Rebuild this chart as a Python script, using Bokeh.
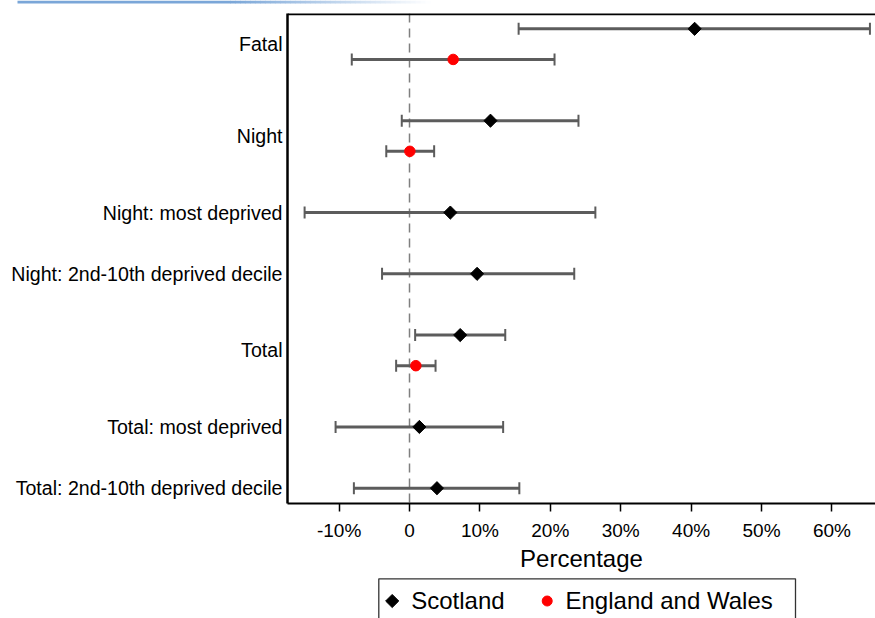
import numpy as np
from bokeh.plotting import figure
from bokeh.layouts import column, row
from bokeh.models import ColumnDataSource, Span, FixedTicker, Range1d
from bokeh.core.properties import value
from bokeh.embed import file_html
from bokeh.resources import INLINE

groups = ["Fatal", "Night", "Night: most deprived", "Night: 2nd-10th deprived decile",
          "Total", "Total: most deprived", "Total: 2nd-10th deprived decile"]
scot_est = [40.5, 11.5, 5.8, 9.6, 7.2, 1.4, 3.9]
scot_lo = [15.5, -1.1, -14.9, -3.9, 0.8, -10.5, -7.9]
scot_hi = [65.4, 24.0, 26.4, 23.4, 13.6, 13.3, 15.6]
ew_est = [6.2, 0.05, None, None, 0.9, None, None]
ew_lo = [-8.2, -3.3, None, None, -1.9, None, None]
ew_hi = [20.6, 3.5, None, None, 3.7, None, None]
x_ticks = [-10, 0, 10, 20, 30, 40, 50, 60]
x_tick_labels = ["-10%", "0", "10%", "20%", "30%", "40%", "50%", "60%"]
series_names = ["Scotland", "England and Wales"]

FONT = "Liberation Sans"
BAR = "#5c5c5c"
W = 875
LEFT = 287

# ---------- layout of rows: one slot per series, then a gap slot ----------
pos = 0
scot_y, ew_y, label_y = [], [], []
for i in range(len(groups)):
    if ew_est[i] is not None:
        scot_y.append(pos)
        ew_y.append(pos + 1)
        label_y.append(pos + 0.5)
        pos += 3
    else:
        scot_y.append(pos)
        ew_y.append(None)
        label_y.append(pos)
        pos += 2
y_end = pos - 2 + 0.5
ew_idx = [i for i in range(len(groups)) if ew_est[i] is not None]

src_s = ColumnDataSource(dict(y=scot_y, est=scot_est, lo=scot_lo, hi=scot_hi))
src_e = ColumnDataSource(dict(y=[ew_y[i] for i in ew_idx], est=[ew_est[i] for i in ew_idx],
                              lo=[ew_lo[i] for i in ew_idx], hi=[ew_hi[i] for i in ew_idx]))

def bare(fig):
    fig.outline_line_color = None
    fig.xgrid.visible = False
    fig.ygrid.visible = False
    fig.background_fill_color = "white"
    fig.border_fill_color = "white"

# ---------- top decorative gradient strip ----------
top = figure(width=W, height=13, output_backend="svg", toolbar_location=None,
             x_range=Range1d(0, W), y_range=Range1d(13, 0),
             x_axis_type=None, y_axis_type=None, min_border=0)
bare(top)
edges = np.linspace(230, 430, 41)
blue = np.array([122, 166, 216])
fade_cols = []
for k in range(40):
    t = (k + 0.5) / 40
    c = blue + (255 - blue) * t
    fade_cols.append("#%02x%02x%02x" % tuple(int(round(v)) for v in c))
top.quad(left=[17], right=[230.5], top=[0], bottom=[3], fill_color="#7aa6d8", line_color=None)
top.quad(left=edges[:-1], right=edges[1:] + 0.5, top=0, bottom=3, fill_color=fade_cols,
         line_color=None)

# ---------- main chart ----------
p = figure(width=W, height=564, output_backend="svg", toolbar_location=None,
           x_range=Range1d(-17.33, 66.19), y_range=Range1d(y_end, -0.5),
           min_border_left=LEFT, min_border_right=0, min_border_top=0, min_border_bottom=74)
bare(p)

p.add_layout(Span(location=0, dimension="height", line_color="#7f7f7f", line_width=1.5,
                  line_dash="9 6", level="underlay"))
p.add_layout(Span(location=-0.5, dimension="width", line_color="black", line_width=3.5))

for src, marker, color, size, angle in [
        (src_s, "square", "black", 9.3, np.pi / 4),
        (src_e, "circle", "red", 10.5, 0)]:
    p.segment(x0="lo", y0="y", x1="hi", y1="y", source=src, line_color=BAR, line_width=3)
    p.scatter(x="lo", y="y", source=src, marker="dash", angle=np.pi / 2, size=12,
              line_color=BAR, line_width=2)
    p.scatter(x="hi", y="y", source=src, marker="dash", angle=np.pi / 2, size=12,
              line_color=BAR, line_width=2)
    p.scatter(x="est", y="y", source=src, marker=marker, angle=angle, size=size,
              fill_color=color, line_color=color)

xa = p.xaxis[0]
xa.ticker = FixedTicker(ticks=x_ticks)
xa.major_label_overrides = dict(zip(x_ticks, x_tick_labels))
xa.axis_line_color = "black"
xa.axis_line_width = 2
xa.major_tick_out = 8
xa.major_tick_in = 0
xa.major_tick_line_width = 1.5
xa.major_tick_line_color = "black"
xa.minor_tick_out = 0
xa.minor_tick_in = 0
xa.major_label_text_font = FONT
xa.major_label_text_font_size = "19px"
xa.major_label_text_color = "black"
xa.major_label_standoff = 8
xa.axis_label = "Percentage"
xa.axis_label_text_font = FONT
xa.axis_label_text_font_size = "24px"
xa.axis_label_text_font_style = "normal"
xa.axis_label_text_color = "black"
xa.axis_label_standoff = 1

ya = p.yaxis[0]
ya.ticker = FixedTicker(ticks=label_y)
ya.major_label_overrides = {float(v): g for v, g in zip(label_y, groups)}
ya.axis_line_color = "black"
ya.axis_line_width = 2.5
ya.major_tick_out = 0
ya.major_tick_in = 0
ya.minor_tick_out = 0
ya.minor_tick_in = 0
ya.major_label_text_font = FONT
ya.major_label_text_font_size = "19.6px"
ya.major_label_text_color = "black"
ya.major_label_standoff = 5

# ---------- legend strip (page-pixel coordinates over the frame width) ----------
leg = figure(width=W, height=41, output_backend="svg", toolbar_location=None,
             x_range=Range1d(LEFT, W), y_range=Range1d(41, 0),
             x_axis_type=None, y_axis_type=None, min_border=0, min_border_left=LEFT)
bare(leg)
leg.quad(left=[378.3], right=[795], top=[1.3], bottom=[60], fill_color=None,
         line_color="#333333", line_width=1.3)
leg.scatter(x=[391.7], y=[23.5], marker="square", angle=np.pi / 4, size=9.3,
            fill_color="black", line_color="black")
leg.scatter(x=[546.7], y=[23.5], marker="circle", size=10, fill_color="red", line_color="red")
leg.text(x=[410.7, 565], y=[23.0, 23.0], text=series_names, text_font=value(FONT),
         text_font_size="24px", text_color="black", text_align="left",
         text_baseline="middle")

layout = column(row(top), p, leg, spacing=0)
open("out.html", "w").write(file_html(layout, INLINE))
